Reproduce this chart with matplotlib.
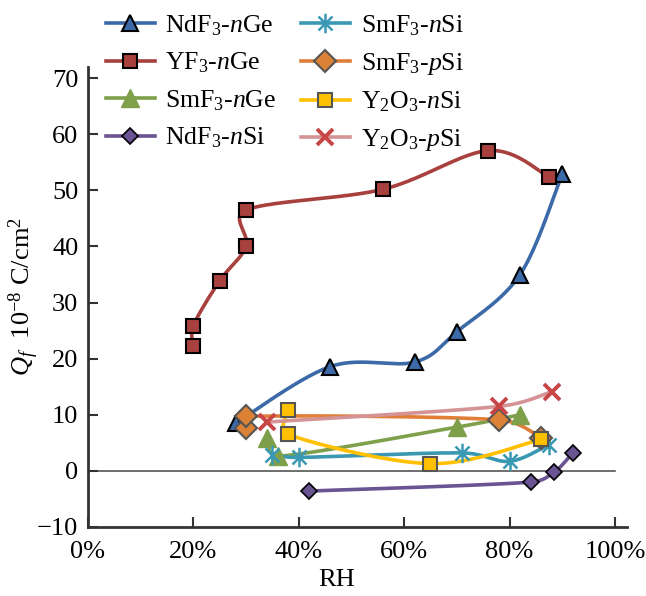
import matplotlib
matplotlib.use("Agg")
import matplotlib.pyplot as plt
import numpy as np
from matplotlib.path import Path

plt.rcParams['font.family'] = ['Liberation Serif', 'DejaVu Serif']
plt.rcParams['mathtext.fontset'] = 'custom'
plt.rcParams['mathtext.rm'] = 'Liberation Serif'
plt.rcParams['mathtext.it'] = 'Liberation Serif:italic'
plt.rcParams['mathtext.bf'] = 'Liberation Serif:bold'

# relative humidity (%) and Qf (1e-8 C/cm^2)
ndf3_nge_x = [28, 46, 62, 70, 82, 90]
ndf3_nge_y = [8.5, 18.6, 19.4, 24.8, 35.0, 52.9]

yf3_nge_x = [20, 20, 25, 30, 30, 56, 76, 87.5]
yf3_nge_y = [22.3, 25.9, 33.9, 40.0, 46.5, 50.2, 57.1, 52.4]

smf3_nge_x = [34, 36, 70, 82]
smf3_nge_y = [5.8, 2.6, 7.8, 10.0]

ndf3_nsi_x = [42, 84, 88.5, 92]
ndf3_nsi_y = [-3.6, -2.0, -0.2, 3.2]

smf3_nsi_x = [35, 40, 71, 80, 87.5]
smf3_nsi_y = [2.8, 2.4, 3.2, 1.7, 4.7]

smf3_psi_x = [30, 30, 78, 86]
smf3_psi_y = [7.7, 9.7, 9.1, 5.9]

y2o3_nsi_x = [38, 38, 65, 86]
y2o3_nsi_y = [10.9, 6.5, 1.3, 5.6]

y2o3_psi_x = [34, 78, 88]
y2o3_psi_y = [8.7, 11.5, 14.1]

PX = np.array([5.27, 5.61])  # rough pixels per data unit, used to cap the tangents


def smooth(xs, ys, n=40):
    # excel style smoothed line: bezier segments, catmull-rom control points,
    # control arms capped at half the segment length so short segments do not loop
    p = np.column_stack([xs, ys]).astype(float)
    p = np.vstack([p[0], p, p[-1]])
    out = []
    t = np.linspace(0, 1, n)[:, None]
    for i in range(1, len(p) - 2):
        p0, p1, p2, p3 = p[i - 1], p[i], p[i + 1], p[i + 2]
        seg_len = np.hypot(*((p2 - p1) * PX))
        a1 = (p2 - p0) / 6
        a2 = (p3 - p1) / 6
        for a in (a1, a2):
            alen = np.hypot(*(a * PX))
            if alen > 0.5 * seg_len and alen > 0:
                a *= 0.5 * seg_len / alen
        b1 = p1 + a1
        b2 = p2 - a2
        seg = ((1 - t) ** 3) * p1 + 3 * ((1 - t) ** 2) * t * b1 \
            + 3 * (1 - t) * t ** 2 * b2 + t ** 3 * p2
        out.append(seg)
    out = np.vstack(out)
    return out[:, 0], out[:, 1]


# asterisk marker: vertical stroke plus an x
d = 0.72
star = Path([(0, -1), (0, 1), (-d, -d), (d, d), (-d, d), (d, -d)],
            [Path.MOVETO, Path.LINETO, Path.MOVETO, Path.LINETO, Path.MOVETO, Path.LINETO])

series = [
    (ndf3_nge_x, ndf3_nge_y, r'NdF$_3$-$n$Ge', '#3C6AA8', '^', '#3C6AA8', 'black', 1.5, 12),
    (yf3_nge_x, yf3_nge_y, r'YF$_3$-$n$Ge', '#A8403E', 's', '#A8403E', 'black', 1.5, 10),
    (smf3_nge_x, smf3_nge_y, r'SmF$_3$-$n$Ge', '#7FA04A', '^', '#7FA04A', '#7FA04A', 1.0, 13.5),
    (ndf3_nsi_x, ndf3_nsi_y, r'NdF$_3$-$n$Si', '#6A5494', 'D', '#6A5494', 'black', 1.2, 8.5),
    (smf3_nsi_x, smf3_nsi_y, r'SmF$_3$-$n$Si', '#3A98B2', star, '#3A98B2', '#3A98B2', 1.8, 14),
    (smf3_psi_x, smf3_psi_y, r'SmF$_3$-$p$Si', '#E07E38', 'D', '#DC8236', '#555555', 1.5, 11),
    (y2o3_nsi_x, y2o3_nsi_y, r'Y$_2$O$_3$-$n$Si', '#FFC000', 's', '#FFC000', '#555555', 1.5, 10.5),
    (y2o3_psi_x, y2o3_psi_y, r'Y$_2$O$_3$-$p$Si', '#D49394', 'x', '#C84646', '#C84646', 2.8, 12),
]

fig = plt.figure(figsize=(6.46, 5.96), dpi=100)
ax = fig.add_axes([0.1362, 0.1158, 0.8344, 0.7718])

ax.axhline(0, color='#555555', lw=1.2, xmin=0, xmax=100 / 102.3, zorder=1)

handles = []
for xs, ys, label, lc, mk, mfc, mec, mew, ms in series:
    sx, sy = smooth(xs, ys)
    ax.plot(sx, sy, color=lc, lw=2.6, solid_capstyle='round', zorder=2)
    ax.plot(xs, ys, ls='none', marker=mk, ms=ms, mfc=mfc, mec=mec, mew=mew, zorder=3)
    h, = ax.plot([], [], color=lc, lw=2.6, marker=mk, ms=ms, mfc=mfc, mec=mec, mew=mew,
                 label=label)
    handles.append(h)

ax.set_xlim(0, 102.3)
ax.set_ylim(-10, 72)
ax.set_xticks(np.arange(0, 101, 20))
ax.set_xticklabels([f'{v}%' for v in range(0, 101, 20)])
ax.set_yticks(np.arange(-10, 71, 10))
ax.set_yticklabels([f'{v}' if v >= 0 else f'\u2212{-v}' for v in range(-10, 71, 10)])
ax.tick_params(direction='in', length=7, width=1.5, color='#333333', labelsize=19)
ax.tick_params(axis='x', pad=10)
ax.tick_params(axis='y', pad=7)

for side in ['top', 'right']:
    ax.spines[side].set_visible(False)
for side in ['left', 'bottom']:
    ax.spines[side].set_linewidth(2)
    ax.spines[side].set_color('#333333')

ax.set_xlabel('RH', fontsize=19)
ax.xaxis.set_label_coords(0.462, -0.092)
ax.set_ylabel(r'$Q_f$  10$^{-8}$ C/cm$^2$', fontsize=19)
ax.yaxis.set_label_coords(-0.087, 0.5)

fig.legend(handles=handles, ncol=2, loc='upper left', bbox_to_anchor=(0.148, 0.995),
           frameon=False, fontsize=18.5, handlelength=1.9, handletextpad=0.42,
           columnspacing=0.95, labelspacing=0.5, borderaxespad=0)

fig.savefig('out.png', dpi=100)
